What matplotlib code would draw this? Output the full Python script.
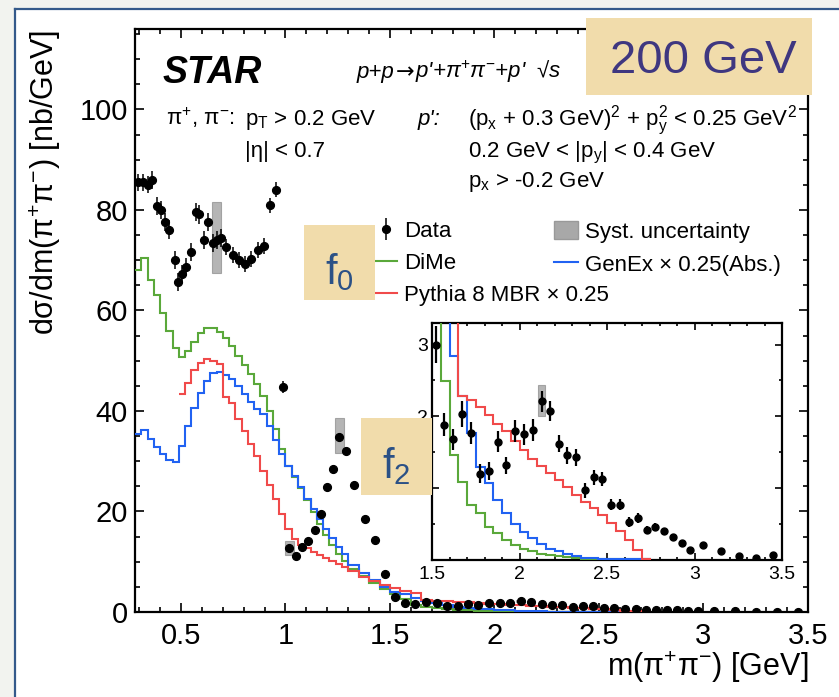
import matplotlib
matplotlib.use("Agg")
import matplotlib.pyplot as plt
from matplotlib.patches import Rectangle, Patch
from matplotlib.lines import Line2D
from matplotlib.ticker import MultipleLocator, FixedLocator

plt.rcParams['font.family'] = ['Liberation Sans', 'DejaVu Sans']
plt.rcParams['mathtext.fontset'] = 'custom'
plt.rcParams['mathtext.rm'] = 'Liberation Sans'
plt.rcParams['mathtext.it'] = 'Liberation Sans:italic'
plt.rcParams['mathtext.bf'] = 'Liberation Sans:bold'

# ---------------- data ----------------
data_m = [0.293, 0.317, 0.340, 0.362, 0.386, 0.405, 0.425, 0.445, 0.469, 0.488,
          0.507, 0.526, 0.549, 0.570, 0.588, 0.609, 0.627, 0.653, 0.672, 0.691,
          0.716, 0.749, 0.776, 0.808, 0.837, 0.867, 0.896, 0.928, 0.957, 0.987,
          1.019, 1.051, 1.078, 1.109, 1.139, 1.168, 1.200, 1.229, 1.258, 1.290,
          1.329, 1.380, 1.430, 1.477,
          1.523, 1.570, 1.622, 1.673, 1.723, 1.774, 1.826, 1.875, 1.923, 1.974,
          2.026, 2.075, 2.127, 2.176, 2.226, 2.273, 2.323, 2.374, 2.424, 2.473,
          2.523, 2.574, 2.624, 2.675, 2.727, 2.774, 2.824, 2.875, 2.927, 2.976,
          3.05, 3.151, 3.253, 3.351, 3.45]
data_y = [85.5, 85.5, 85.0, 85.9, 80.7, 79.9, 77.6, 76.1, 70.1, 65.7,
          67.3, 68.6, 71.6, 79.6, 79.1, 74.0, 77.6, 73.4, 74.0, 74.5,
          72.6, 71.0, 70.1, 69.3, 70.3, 72.0, 72.8, 80.9, 84.0, 44.8,
          12.7, 11.1, 13.0, 14.2, 16.3, 19.5, 24.8, 28.4, 34.9, 32.1,
          25.2, 18.5, 14.3, 7.55,
          3.00, 1.88, 1.68, 2.03, 1.77, 1.20, 1.24, 1.65, 1.32, 1.80,
          1.75, 1.81, 2.21, 2.08, 1.62, 1.46, 1.43, 0.97, 1.15, 1.13,
          0.77, 0.77, 0.53, 0.58, 0.42, 0.46, 0.40, 0.32, 0.24, 0.14,
          0.21, 0.12, 0.05, 0.03, 0.07]
data_err = [1.7, 1.7, 1.7, 1.8, 1.8, 1.8, 1.8, 1.8, 1.8, 1.8,
            1.8, 1.8, 1.8, 1.8, 1.8, 1.8, 1.8, 1.8, 1.8, 1.8,
            1.6, 1.6, 1.6, 1.6, 1.6, 1.6, 1.6, 1.5, 1.5, 1.2,
            0.6, 0.5, 0.5, 0.5, 0.5, 0.5, 0.5, 0.5, 0.6, 0.6,
            0.5, 0.4, 0.4, 0.3,
            0.26, 0.16, 0.15, 0.18, 0.15, 0.13, 0.13, 0.15, 0.12, 0.15,
            0.15, 0.15, 0.15, 0.14, 0.12, 0.12, 0.12, 0.10, 0.10, 0.10,
            0.08, 0.08, 0.07, 0.07, 0.06, 0.06, 0.05, 0.04, 0.03, 0.03,
            0.03, 0.02, 0.02, 0.02, 0.02]

# systematic uncertainty boxes (shown for a few points)
syst_m = [0.670, 1.019, 1.259, 2.125]
syst_lo = [67.4, 11.3, 31.7, 2.00]
syst_hi = [81.6, 14.2, 38.6, 2.43]

# model histograms
edges = [0.28, 0.31, 0.34, 0.37, 0.40, 0.43, 0.46, 0.49, 0.52, 0.55, 0.58, 0.61,
         0.64, 0.67, 0.70, 0.73, 0.76, 0.79, 0.82, 0.85, 0.88, 0.91, 0.94, 0.97,
         1.00, 1.03, 1.06, 1.09, 1.12, 1.15, 1.18, 1.21, 1.24, 1.27, 1.30,
         1.35, 1.40, 1.45, 1.50, 1.55, 1.60, 1.65, 1.70, 1.75, 1.80, 1.85, 1.90,
         1.95, 2.00, 2.05, 2.10, 2.15, 2.20, 2.25, 2.30, 2.35, 2.40, 2.45, 2.50,
         2.55, 2.60, 2.65, 2.70, 2.75]
dime = [68, 70.5, 66, 63, 59.5, 56, 52.5, 50.8, 52, 53.8, 55.5, 56.6, 56.5, 55.7,
        54.6, 53.0, 51.0, 49.2, 47.3, 45.3, 43.0, 40.0, 36.5, 32.5, 29.0, 26.8,
        24.6, 22.2, 19.8, 17.5, 15.3, 13.4, 11.6, 10.2,
        8.6, 7.1, 5.8, 4.6, 3.6, 2.49, 1.46, 1.09, 0.77, 0.65, 0.46, 0.37, 0.28,
        0.21, 0.16, 0.12, 0.09, 0.07, 0.05, 0.04, 0.03, 0.02, 0.02, 0.02, 0.01,
        0.01, 0.01, 0.01, 0.01]
genex = [35.5, 36.2, 34.5, 32.8, 31.5, 30.3, 29.9, 33.0, 37.0, 40.5, 43.5, 46.0,
         47.5, 47.8, 47.2, 46.3, 45.0, 43.3, 41.7, 40.3, 39.3, 37.0, 34.3, 31.5,
         29.0, 27.0, 24.8, 22.4, 20.5, 18.5, 16.5, 14.7, 13.0, 11.5,
         9.3, 7.8, 6.3, 5.0, 3.9, 3.6, 2.84, 2.28, 1.77, 1.30, 1.07, 0.84, 0.65,
         0.50, 0.39, 0.30, 0.22, 0.16, 0.12, 0.08, 0.05, 0.03, 0.03, 0.01, 0.01,
         0.01, 0.01, 0.01, 0.01]
pythia_start = 7  # first bin index of the Pythia histogram
pythia = [43.3, 45.5, 48.1, 49.5, 50.4, 50.0, 49.4, 42.8, 41.5, 38.5, 36.0,
          33.5, 31.0, 28.0, 25.2, 22.5, 19.5, 16.5, 14.5, 13.4, 12.7, 12.0,
          11.4, 10.8, 10.1, 9.5, 8.9,
          8.1, 7.0, 6.1, 5.4, 4.8, 4.2, 3.7, 2.29, 2.23, 2.13, 2.02, 1.90,
          1.79, 1.66, 1.53, 1.41, 1.31, 1.21, 1.12, 1.02, 0.91, 0.81, 0.72,
          0.62, 0.52, 0.40, 0.28, 0.14, 0.02]

# ---------------- style ----------------
W, H = 839, 697
C_GREEN = '#5aa83a'
C_BLUE = '#2162f2'
C_RED = '#f04a4a'
C_SYST = '#a8a8a8'
TAN = '#f1dcab'
FS_TXT = 16


def fx(px):
    return px / W


def fy(py):
    return 1 - py / H


fig = plt.figure(figsize=(W / 100, H / 100), dpi=100)
fig.patch.set_facecolor('white')

# slide frame
fig.add_artist(Rectangle((0, 0), fx(15), 1, transform=fig.transFigure,
                         facecolor='#f2f3ef', edgecolor='none', zorder=-5))
fig.add_artist(Rectangle((0, fy(9)), 1, 1 - fy(9), transform=fig.transFigure,
                         facecolor='#f2f3ef', edgecolor='none', zorder=-5))
fig.add_artist(Line2D([fx(15), fx(15)], [0, fy(9)], transform=fig.transFigure,
                      color='#34598a', lw=1.6, zorder=-4))
fig.add_artist(Line2D([fx(15), 1], [fy(9), fy(9)], transform=fig.transFigure,
                      color='#34598a', lw=1.6, zorder=-4))


def draw_all(ax, ms, elw, syst_w):
    ax.stairs(dime, edges, color=C_GREEN, lw=1.5, baseline=None, zorder=3)
    ax.stairs(genex, edges, color=C_BLUE, lw=1.5, baseline=None, zorder=3)
    ax.stairs(pythia, edges[pythia_start:], color=C_RED, lw=1.5,
              baseline=None, zorder=3)
    for m, lo, hi in zip(syst_m, syst_lo, syst_hi):
        ax.add_patch(Rectangle((m - syst_w / 2, lo), syst_w, hi - lo,
                               facecolor=C_SYST, edgecolor='#999999', lw=0.8,
                               alpha=0.85, zorder=4))
    eb = ax.errorbar(data_m, data_y, yerr=data_err, fmt='o', color='black',
                     ms=ms, elinewidth=elw, capsize=0, zorder=5)
    return eb


def style_axes(ax, maj_len, min_len, lsize):
    for s in ax.spines.values():
        s.set_linewidth(1.6)
    ax.tick_params(which='both', direction='in', top=True, right=True,
                   width=1.2, labelsize=lsize)
    ax.tick_params(which='major', length=maj_len)
    ax.tick_params(which='minor', length=min_len)


# ---------------- main axes ----------------
ax = fig.add_axes([fx(135), fy(612), (808 - 135) / W, (612 - 29) / H])
eb = draw_all(ax, 5.6, 1.1, 0.04)
ax.set_xlim(0.28, 3.5)
ax.set_ylim(0, 116)
ax.xaxis.set_major_locator(MultipleLocator(0.5))
ax.xaxis.set_minor_locator(MultipleLocator(0.1))
ax.yaxis.set_major_locator(MultipleLocator(20))
ax.yaxis.set_minor_locator(MultipleLocator(5))
style_axes(ax, 6.5, 3.3, 21)
ax.tick_params(axis='x', pad=7)
ax.tick_params(axis='y', pad=5)
ax.xaxis.set_major_formatter(plt.FuncFormatter(lambda v, p: f'{v:g}'))

fig.text(fx(808), fy(667), 'm(π$^{+}$π$^{-}$) [GeV]', ha='right', va='center',
         fontsize=22)
fig.text(fx(45), fy(30), 'dσ/dm(π$^{+}$π$^{-}$) [nb/GeV]', rotation=90,
         ha='center', va='top', fontsize=22)

# annotations inside
fig.text(fx(163), fy(83), 'STAR', fontsize=27, fontweight='bold',
         style='italic', ha='left', va='baseline')

renderer = fig.canvas.get_renderer()
x_cur = 357
for piece, kw in [("p+p", dict(style='italic')),
                  ("→", dict(family=['DejaVu Sans'])),
                  ("p'+π$^{+}$π$^{-}$+p'  √s", dict(style='italic'))]:
    t = fig.text(fx(x_cur), fy(78), piece, fontsize=FS_TXT, ha='left',
                 va='baseline', **kw)
    x_cur += t.get_window_extent(renderer).width + 1

fig.text(fx(166), fy(125), 'π$^{+}$, π$^{-}$:', fontsize=FS_TXT, ha='left',
         va='baseline')
fig.text(fx(245), fy(125), 'p$_{\\rm T}$ > 0.2 GeV', fontsize=FS_TXT,
         ha='left', va='baseline')
fig.text(fx(245), fy(157), '|η| < 0.7', fontsize=FS_TXT, ha='left',
         va='baseline')
fig.text(fx(418), fy(125), "p':", fontsize=FS_TXT, style='italic', ha='left',
         va='baseline')
fig.text(fx(468), fy(125),
         '(p$_{\\rm x}$ + 0.3 GeV)$^{2}$ + p$_{\\rm y}^{2}$ < 0.25 GeV$^{2}$',
         fontsize=FS_TXT, ha='left', va='baseline')
fig.text(fx(468), fy(157), '0.2 GeV < |p$_{\\rm y}$| < 0.4 GeV',
         fontsize=FS_TXT, ha='left', va='baseline')
fig.text(fx(468), fy(187), 'p$_{\\rm x}$ > -0.2 GeV', fontsize=FS_TXT,
         ha='left', va='baseline')

# legends
h_data = eb
h_dime = Line2D([], [], color=C_GREEN, lw=1.5)
h_gen = Line2D([], [], color=C_BLUE, lw=1.5)
h_pyt = Line2D([], [], color=C_RED, lw=1.5)
h_syst = Patch(facecolor=C_SYST, edgecolor='#999999')
leg1 = ax.legend([h_data, h_dime, h_pyt],
                 ['Data', 'DiMe', 'Pythia 8 MBR × 0.25'],
                 loc='upper left', bbox_to_anchor=(fx(375), fy(221)),
                 bbox_transform=fig.transFigure, frameon=False,
                 fontsize=FS_TXT, borderpad=0, borderaxespad=0,
                 handlelength=1.0, handletextpad=0.3, labelspacing=0.5)
ax.add_artist(leg1)
ax.legend([h_syst, h_gen], ['Syst. uncertainty', 'GenEx × 0.25(Abs.)'],
          loc='upper left', bbox_to_anchor=(fx(554), fy(221)),
          bbox_transform=fig.transFigure, frameon=False, fontsize=FS_TXT,
          borderpad=0, borderaxespad=0, handlelength=1.1, handleheight=0.9,
          handletextpad=0.3, labelspacing=0.5)

# ---------------- inset ----------------
axi = fig.add_axes([fx(432), fy(560), (782 - 432) / W, (560 - 323) / H])
draw_all(axi, 5.0, 1.6, 0.04)
axi.set_xlim(1.5, 3.5)
axi.set_ylim(0, 3.3)
axi.xaxis.set_major_locator(MultipleLocator(0.5))
axi.xaxis.set_minor_locator(MultipleLocator(0.1))
axi.yaxis.set_major_locator(FixedLocator([1, 2, 3]))
axi.yaxis.set_minor_locator(MultipleLocator(0.5))
style_axes(axi, 5, 2.5, 14)
axi.tick_params(axis='x', pad=4)
axi.tick_params(axis='y', pad=3)
axi.xaxis.set_major_formatter(plt.FuncFormatter(lambda v, p: f'{v:g}'))

# ---------------- overlay labels ----------------
def tan_box(x0, y0, x1, y1):
    fig.add_artist(Rectangle((fx(x0), fy(y1)), (x1 - x0) / W, (y1 - y0) / H,
                             transform=fig.transFigure, facecolor=TAN,
                             edgecolor='none', zorder=10))


tan_box(586, 18, 812, 95)
fig.text(fx(703), fy(73), '200 GeV', fontsize=34, color='#3f3780',
         ha='center', va='baseline', zorder=11)
tan_box(304, 225, 375, 300)
fig.text(fx(339), fy(284), 'f$_{0}$', fontsize=30, color='#2b5186',
         ha='center', va='baseline', zorder=11)
tan_box(361, 418, 432, 495)
fig.text(fx(396), fy(478), 'f$_{2}$', fontsize=30, color='#2b5186',
         ha='center', va='baseline', zorder=11)

fig.savefig('out.png', dpi=100)
